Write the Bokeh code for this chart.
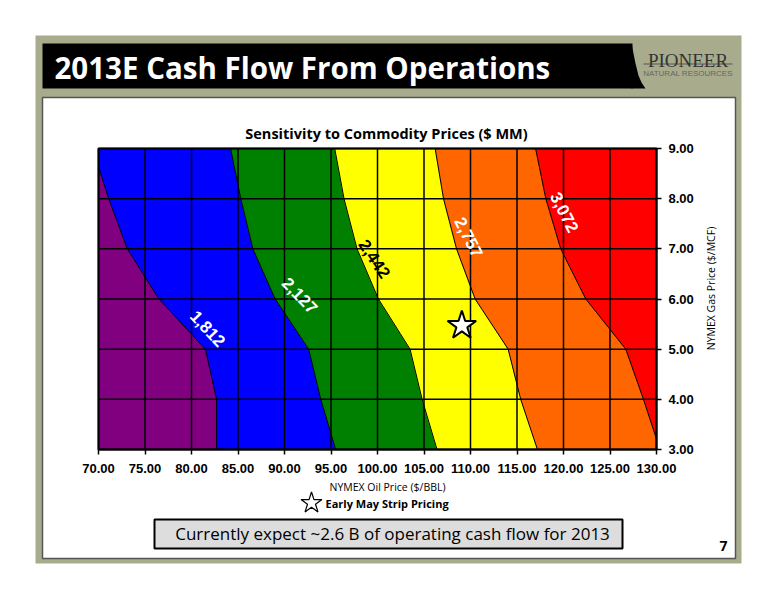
import math
from bokeh.plotting import figure
from bokeh.models import (Range1d, FixedTicker, NumeralTickFormatter, LinearAxis)
from bokeh.core.properties import value
from bokeh.embed import file_html
from bokeh.resources import INLINE

# ---------------- data ----------------
oil_ticks = [70, 75, 80, 85, 90, 95, 100, 105, 110, 115, 120, 125, 130]
gas_ticks = [3, 4, 5, 6, 7, 8, 9]
level_labels = ["1,812", "2,127", "2,442", "2,757", "3,072"]
# each cash-flow contour as (oil $/BBL, gas $/MCF) crossing points, from low gas to high gas
c1812_oil = [82.7, 82.7, 81.5, 76.5, 73.1, 71.1, 70.0]
c1812_gas = [3, 4, 5, 6, 7, 8, 8.63]
c2127_oil = [95.5, 93.9, 92.6, 89.0, 86.6, 85.3, 84.2]
c2127_gas = [3, 4, 5, 6, 7, 8, 9]
c2442_oil = [106.4, 104.8, 103.5, 100.1, 97.8, 96.4, 95.4]
c2442_gas = [3, 4, 5, 6, 7, 8, 9]
c2757_oil = [117.2, 115.4, 114.05, 110.5, 108.5, 107.1, 106.2]
c2757_gas = [3, 4, 5, 6, 7, 8, 9]
c3072_oil = [130.0, 128.6, 126.7, 122.4, 119.7, 118.1, 117.0]
c3072_gas = [3.21, 4, 5, 6, 7, 8, 9]
band_colors = ["#800080", "#0000ff", "#008000", "#ffff00", "#ff6600", "#ff0000"]
label_oil = [81.75, 91.65, 99.68, 109.82, 120.1]
label_gas = [5.41, 6.07, 6.80, 7.23, 7.73]
label_angle_deg = [-47, -46, -56, -63, -63]
label_color = ["white", "white", "black", "white", "white"]
strip_oil = [109.07]
strip_gas = [5.47]

# ---------------- page / figure ----------------
W, H = 776, 600
PL, PR, PT, PB = 98, 656, 148, 449          # chart frame on the page (px)
x0, x1 = oil_ticks[0], oil_ticks[-1]
y0, y1 = gas_ticks[0], gas_ticks[-1]
sx = (PR - PL) / (x1 - x0)
sy = (PB - PT) / (y1 - y0)

p = figure(width=W, height=H, x_range=Range1d(0, W), y_range=Range1d(H, 0),
           x_axis_location=None, y_axis_location=None, min_border=0,
           output_backend="svg", toolbar_location=None, title=None,
           background_fill_color="white", border_fill_color="white")
p.outline_line_color = None
p.grid.visible = False
p.extra_x_ranges = {"oil": Range1d(x0 - PL / sx, x1 + (W - PR) / sx)}
p.extra_y_ranges = {"gas": Range1d(y0 - (H - PB) / sy, y1 + PT / sy)}
C = dict(x_range_name="oil", y_range_name="gas")

# slide decorations (page px)
p.quad(left=[35], right=[741], top=[35], bottom=[563], fill_color="#a9ac8c", line_color=None)
p.quad(left=[42], right=[632], top=[43], bottom=[88], fill_color="black", line_color=None)
p.patch([631, 635, 638, 641, 645, 631], [43, 63, 75, 82, 88, 88], fill_color="black", line_color=None)
p.quad(left=[42], right=[735], top=[97], bottom=[558], fill_color="white",
       line_color="#555555", line_width=1.5)
p.quad(left=[154], right=[622], top=[519], bottom=[548], fill_color="#dddddd",
       line_color="black", line_width=2)
p.quad(left=[643], right=[732], top=[63], bottom=[64], fill_color="#555555", line_color=None)

# contour bands
chains = [(c1812_oil, c1812_gas), (c2127_oil, c2127_gas), (c2442_oil, c2442_gas),
          (c2757_oil, c2757_gas), (c3072_oil, c3072_gas)]
rev = lambda a: list(reversed(a))
bx = [[x0] + rev(c1812_oil)]
by = [[y0] + rev(c1812_gas)]
for k in range(4):
    lo, lg = chains[k]
    ro, rg = chains[k + 1]
    ex, ey = ([x0], [y1]) if k == 0 else ([], [])
    tail_x, tail_y = ([x1], [y0]) if k == 3 else ([], [])
    bx.append(list(lo) + ex + rev(ro) + tail_x)
    by.append(list(lg) + ey + rev(rg) + tail_y)
bx.append(list(c3072_oil) + [x1])
by.append(list(c3072_gas) + [y1])
p.patches(bx, by, fill_color=band_colors, line_color=band_colors, line_width=0.5, **C)
p.multi_line([c[0] for c in chains], [c[1] for c in chains], line_color="black",
             line_width=1, **C)

# grid lines and frame
gx = [[t, t] for t in oil_ticks] + [[x0, x1] for g in gas_ticks]
gy = [[y0, y1] for t in oil_ticks] + [[g, g] for g in gas_ticks]
p.multi_line(gx, gy, line_color="black", line_width=1.5, **C)
p.quad(left=[x0], right=[x1], bottom=[y0], top=[y1], fill_color=None, line_color="black",
       line_width=2, **C)

p.text(x=label_oil, y=label_gas, text=level_labels,
       angle=[math.radians(a) for a in label_angle_deg], text_color=label_color,
       text_font=value("Liberation Sans"), text_font_size="17px", text_font_style="bold",
       text_align="center", text_baseline="middle", **C)

p.scatter(strip_oil, strip_gas, marker="star", size=30, fill_color="white",
          line_color="black", line_width=2, **C)

# axes
def style_axis(ax):
    ax.formatter = NumeralTickFormatter(format="0.00")
    ax.major_label_text_font = "Liberation Sans"
    ax.major_label_text_font_style = "bold"
    ax.major_label_text_font_size = "13px"
    ax.major_label_text_color = "black"
    ax.axis_line_color = "black"
    ax.axis_line_width = 1.5
    ax.major_tick_line_color = "black"
    ax.major_tick_line_width = 1.5
    ax.major_tick_out = 5
    ax.major_tick_in = 0
    ax.minor_tick_line_color = None

xaxis = LinearAxis(fixed_location=y0, bounds=(x0, x1), ticker=FixedTicker(ticks=oil_ticks), **C)
style_axis(xaxis)
xaxis.major_label_standoff = 9
p.add_layout(xaxis, "below")

yaxis = LinearAxis(fixed_location=x1, bounds=(y0, y1), ticker=FixedTicker(ticks=gas_ticks), **C)
style_axis(yaxis)
yaxis.major_label_standoff = 7
p.add_layout(yaxis, "right")

# texts (page px)
def txt(x, y, text, size, color="black", font="Open Sans", style="normal", align="left",
        baseline="middle", angle=0.0):
    p.text(x=[x], y=[y], text=[text], text_font=value(font), text_font_size=size,
           text_color=color, text_font_style=style, text_align=align, text_baseline=baseline,
           angle=angle)

txt(387, 486, "NYMEX Oil Price ($/BBL)", "10.5px", align="center")
txt(710, 288, "NYMEX Gas Price ($/MCF)", "10.5px", align="center", angle=math.pi / 2)
txt(54, 67, "2013E Cash Flow From Operations", "29.5px", "white", style="bold")
txt(687.5, 60, "PIONEER", "19px", "#333333", font="Liberation Serif", align="center", baseline="alphabetic")
txt(687.5, 73, "NATURAL RESOURCES", "8px", "#666666", font="Liberation Sans", align="center")
txt(386, 133, "Sensitivity to Commodity Prices ($ MM)", "14.5px", style="bold", align="center")
p.scatter([311], [502.5], marker="star", size=22, fill_color="white", line_color="black",
          line_width=1.2)
txt(325, 503, "Early May Strip Pricing", "11px", style="bold")
txt(392, 533, "Currently expect ~2.6 B of operating cash flow for 2013", "17px", align="center")
txt(723, 545, "7", "14px", style="bold", align="center")

open("out.html", "w").write(file_html(p, INLINE))
